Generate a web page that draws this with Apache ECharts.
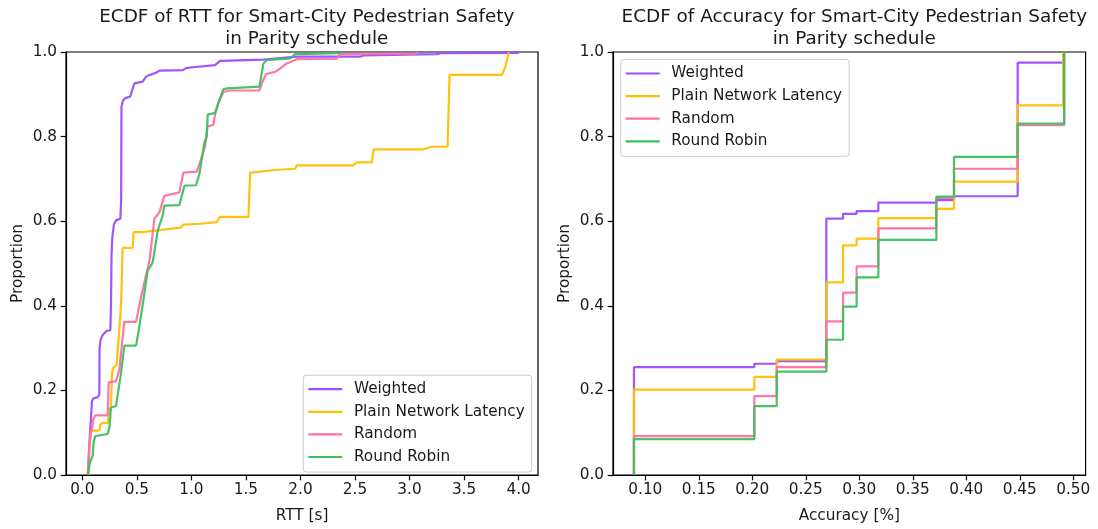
<!DOCTYPE html>
<html>
<head>
<meta charset="utf-8">
<title>ECDF of RTT and Accuracy</title>
<script src="https://cdn.jsdelivr.net/npm/echarts@6/dist/echarts.min.js"></script>
<style>
  html, body { margin: 0; padding: 0; background: #ffffff; }
  #chart { width: 1098px; height: 529px; }
</style>
</head>
<body>
<div id="chart"></div>
<script>
// Series names, in drawing order
const seriesNames = ['Weighted', 'Plain Network Latency', 'Random', 'Round Robin'];
const seriesColors = ['#9b4dff', '#ffbf00', '#ff6fa6', '#3dbf5f'];

// ECDF of RTT [s]: [rtt, proportion] vertices
const rttWeighted = [[0.055,0],[0.062,0.06],[0.071,0.10],[0.089,0.175],[0.10,0.181],[0.141,0.184],[0.156,0.19],[0.158,0.30],[0.168,0.320],[0.187,0.331],[0.224,0.341],[0.257,0.342],[0.263,0.40],[0.268,0.52],[0.275,0.562],[0.29,0.592],[0.309,0.602],[0.349,0.606],[0.356,0.65],[0.359,0.87],[0.372,0.885],[0.395,0.891],[0.44,0.895],[0.47,0.92],[0.48,0.926],[0.554,0.930],[0.584,0.942],[0.62,0.946],[0.676,0.951],[0.707,0.956],[0.921,0.957],[0.95,0.962],[1.013,0.964],[1.217,0.969],[1.263,0.979],[1.661,0.982],[1.967,0.989],[2.548,0.989],[2.578,0.992],[3.25,0.995],[3.28,0.997],[3.995,0.998],[4.0,1.0]];
const rttPlain = [[0.06,0],[0.065,0.07],[0.075,0.095],[0.08,0.105],[0.156,0.105],[0.165,0.12],[0.187,0.123],[0.233,0.123],[0.245,0.15],[0.263,0.16],[0.272,0.24],[0.282,0.253],[0.315,0.261],[0.33,0.265],[0.355,0.40],[0.37,0.537],[0.462,0.537],[0.47,0.574],[0.55,0.574],[0.56,0.578],[0.90,0.585],[0.93,0.592],[1.08,0.594],[1.233,0.598],[1.263,0.610],[1.523,0.610],[1.539,0.715],[1.63,0.717],[1.768,0.721],[1.951,0.724],[1.967,0.732],[2.486,0.732],[2.511,0.739],[2.655,0.739],[2.67,0.770],[3.128,0.770],[3.205,0.776],[3.349,0.776],[3.367,0.946],[3.848,0.946],[3.878,0.965],[3.908,0.997],[3.91,1.0]];
const rttRandom = [[0.05,0],[0.058,0.04],[0.064,0.069],[0.08,0.10],[0.089,0.109],[0.10,0.13],[0.119,0.141],[0.233,0.141],[0.242,0.219],[0.309,0.222],[0.34,0.249],[0.36,0.30],[0.385,0.362],[0.493,0.362],[0.539,0.421],[0.584,0.472],[0.615,0.504],[0.661,0.606],[0.707,0.621],[0.752,0.660],[0.768,0.664],[0.89,0.668],[0.927,0.715],[1.049,0.717],[1.08,0.739],[1.126,0.778],[1.147,0.824],[1.202,0.828],[1.217,0.852],[1.248,0.879],[1.294,0.906],[1.355,0.909],[1.624,0.909],[1.646,0.926],[1.685,0.948],[1.768,0.953],[1.814,0.961],[1.875,0.973],[1.967,0.983],[2.334,0.984],[2.364,0.995],[3.065,0.996],[3.07,1.0]];
const rttRoundRobin = [[0.05,0],[0.07,0.03],[0.095,0.046],[0.105,0.08],[0.119,0.092],[0.233,0.097],[0.248,0.112],[0.263,0.159],[0.309,0.163],[0.355,0.241],[0.385,0.306],[0.493,0.306],[0.523,0.351],[0.569,0.429],[0.6,0.484],[0.639,0.499],[0.646,0.504],[0.692,0.578],[0.737,0.613],[0.752,0.637],[0.89,0.638],[0.936,0.684],[1.043,0.685],[1.073,0.711],[1.119,0.785],[1.141,0.80],[1.15,0.852],[1.217,0.856],[1.257,0.887],[1.294,0.912],[1.325,0.914],[1.624,0.918],[1.661,0.973],[1.692,0.981],[1.906,0.985],[1.951,0.995],[2.364,0.997],[2.37,1.0]];

// ECDF of accuracy: distinct accuracy values and the cumulative proportion at each
const accSteps = [0.0894, 0.2019, 0.2228, 0.2692, 0.2848, 0.2975, 0.3178, 0.372, 0.3885, 0.448];
const accLastWeighted = 0.4905, accLastPlain = 0.4905, accLastRandom = 0.4915, accLastRoundRobin = 0.4915;
const accWeighted   = [0.255, 0.263, 0.269, 0.606, 0.6175, 0.624, 0.644, 0.650, 0.659, 0.975, 1.0];
const accPlain      = [0.202, 0.232, 0.2727, 0.4553, 0.543, 0.5588, 0.6074, 0.629, 0.6935, 0.8738, 1.0];
const accRandom     = [0.0917, 0.1866, 0.2548, 0.363, 0.431, 0.493, 0.583, 0.655, 0.724, 0.8268, 1.0];
const accRoundRobin = [0.0846, 0.163, 0.2445, 0.3197, 0.398, 0.467, 0.5557, 0.658, 0.752, 0.8307, 1.0];

// Tick values
const rttTicks = [0.0, 0.5, 1.0, 1.5, 2.0, 2.5, 3.0, 3.5, 4.0];
const accTicks = [0.10, 0.15, 0.20, 0.25, 0.30, 0.35, 0.40, 0.45, 0.50];
const proportionTicks = [0.0, 0.2, 0.4, 0.6, 0.8, 1.0];

// Titles and axis names
const titles = [
  'ECDF of RTT for Smart-City Pedestrian Safety\nin Parity schedule',
  'ECDF of Accuracy for Smart-City Pedestrian Safety\nin Parity schedule'
];
const xNames = ['RTT [s]', 'Accuracy [%]'];
const yName = 'Proportion';

// Build step points for an ECDF: start at 0, then one point per distinct value
function ecdfPoints(xs, last, ys) {
  const allX = xs.concat([last]);
  const pts = [[allX[0], 0]];
  for (let i = 0; i < ys.length; i++) pts.push([allX[i], ys[i]]);
  return pts;
}

const FONT = 'DejaVu Sans';
const TEXT = '#1a1a1a';
const TICK_FONT = 15.3;

const grids = [
  { left: 66, top: 52, width: 472, height: 426.3 },
  { left: 613, top: 52, width: 472.6, height: 426.3 }
];

const axisLineStyle = { show: true, onZero: false, lineStyle: { color: '#000', width: 1.2 } };

function xAxisDef(gi, min, max, ticks, digits) {
  return {
    type: 'value', gridIndex: gi, min: min, max: max,
    name: xNames[gi], nameLocation: 'middle', nameGap: 34,
    nameTextStyle: { fontFamily: FONT, fontSize: TICK_FONT, color: TEXT },
    axisLine: axisLineStyle,
    splitLine: { show: false },
    axisTick: { show: true, inside: false, length: 5.3, customValues: ticks,
                lineStyle: { color: '#000', width: 1.2 } },
    axisLabel: { show: true, margin: 8, customValues: ticks,
                 fontFamily: FONT, fontSize: TICK_FONT, color: TEXT,
                 formatter: v => Number(v).toFixed(digits) }
  };
}
function yAxisDef(gi) {
  return {
    type: 'value', gridIndex: gi, min: 0, max: 1, interval: 0.2,
    name: yName, nameLocation: 'middle', nameGap: 40, nameRotate: 90,
    nameTextStyle: { fontFamily: FONT, fontSize: TICK_FONT, color: TEXT },
    axisLine: axisLineStyle,
    splitLine: { show: false },
    axisTick: { show: true, inside: false, length: 5.3, customValues: proportionTicks,
                lineStyle: { color: '#000', width: 1.2 } },
    axisLabel: { show: true, margin: 9, customValues: proportionTicks,
                 fontFamily: FONT, fontSize: TICK_FONT, color: TEXT,
                 formatter: v => Number(v).toFixed(1) }
  };
}

function lineSeries(name, idx, gi, data, step) {
  return {
    type: 'line', name: name, xAxisIndex: gi, yAxisIndex: gi,
    data: data, step: step, showSymbol: false, symbol: 'none',
    animation: false, silent: true,
    lineStyle: { color: seriesColors[idx], width: 2.2, opacity: 0.95 },
    itemStyle: { color: seriesColors[idx] },
    z: 2 + idx
  };
}

const rttData = [rttWeighted, rttPlain, rttRandom, rttRoundRobin];
const accData = [
  ecdfPoints(accSteps, accLastWeighted, accWeighted),
  ecdfPoints(accSteps, accLastPlain, accPlain),
  ecdfPoints(accSteps, accLastRandom, accRandom),
  ecdfPoints(accSteps, accLastRoundRobin, accRoundRobin)
];

const series = [];
seriesNames.forEach((n, i) => series.push(lineSeries(n, i, 0, rttData[i], false)));
seriesNames.forEach((n, i) => series.push(lineSeries(n, i, 1, accData[i], 'end')));

function legendDef(left, top) {
  return {
    orient: 'vertical', left: left, top: top,
    data: seriesNames, icon: 'rect', itemWidth: 34, itemHeight: 2.2, itemGap: 5.6,
    padding: [5.5, 7, 6.5, 5],
    backgroundColor: 'rgba(255,255,255,0.8)', borderColor: '#cccccc', borderWidth: 1, borderRadius: 3,
    selectedMode: false,
    textStyle: { fontFamily: FONT, fontSize: TICK_FONT, color: TEXT, lineHeight: 17, padding: [0, 0, 0, 6.6] }
  };
}

const chart = echarts.init(document.getElementById('chart'), null, { renderer: 'canvas' });
chart.setOption({
  animation: false,
  backgroundColor: '#ffffff',
  title: [
    { text: titles[0], left: 301.8, top: 1, textAlign: 'center',
      textStyle: { fontFamily: FONT, fontSize: 18.4, fontWeight: 'normal', color: TEXT, lineHeight: 22 } },
    { text: titles[1], left: 849.3, top: 1, textAlign: 'center',
      textStyle: { fontFamily: FONT, fontSize: 18.4, fontWeight: 'normal', color: TEXT, lineHeight: 22 } }
  ],
  grid: grids.map(g => Object.assign({ show: true, borderColor: '#000', borderWidth: 1.2, backgroundColor: 'transparent' }, g)),
  xAxis: [
    xAxisDef(0, -0.1495, 4.178, rttTicks, 1),
    xAxisDef(1, 0.0698, 0.5115, accTicks, 2)
  ],
  yAxis: [yAxisDef(0), yAxisDef(1)],
  legend: [legendDef(303.3, 375.2), legendDef(620.7, 59.5)],
  series: series
});
</script>
</body>
</html>
